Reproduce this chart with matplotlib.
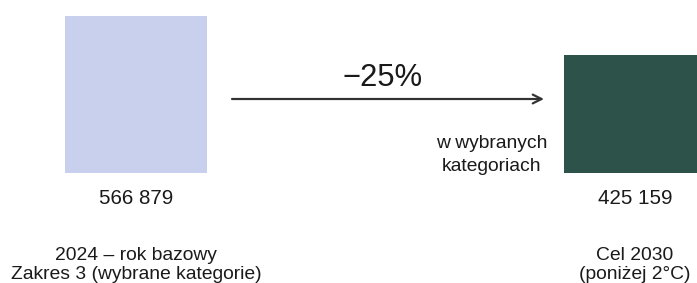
import matplotlib.pyplot as plt

# データ
values = [566879, 425159]
value_labels = ["566 879", "425 159"]
category_labels = ["2024 – rok bazowy\nZakres 3 (wybrane kategorie)",
                   "Cel 2030\n(poniżej 2°C)"]
bar_colors = ["#C8D0EE", "#2D5249"]
change_label = "\u221225%"
change_note = "w wybranych\nkategoriach"

plt.rcParams['font.family'] = ['Liberation Sans', 'DejaVu Sans']
TEXT_COLOR = "#1a1a1a"

W, H = 697, 283
fig = plt.figure(figsize=(W / 72, H / 72), dpi=72)
# 軸はバーの底辺(上から173px)まで
ax = fig.add_axes([0, 1 - 173 / H, 1, 173 / H])
ax.axis("off")

positions = range(len(values))
ax.bar(positions, values, width=0.2846, color=bar_colors)
ax.set_xlim(-0.2725, 1.1242)
ax.set_ylim(0, values[0] * 173 / 157)


def put_lines(text, x, first_offset, step, size):
    """複数行テキストを1行ずつベースライン揃えで配置"""
    for k, line in enumerate(text.split("\n")):
        ax.annotate(line, xy=(x, 0), xytext=(0, first_offset - k * step),
                    textcoords="offset points", ha="center", va="baseline",
                    fontsize=size, color=TEXT_COLOR, annotation_clip=False)


for i, (vl, cl) in enumerate(zip(value_labels, category_labels)):
    put_lines(vl, i, -31.3, 0, 20.5)
    put_lines(cl, i, -87.2, 18.5, 19.2)

# 矢印
arrow_y = 74 / 173
ax.annotate("", xy=(0.8176, arrow_y), xytext=(0.1924, arrow_y),
            xycoords=("data", "axes fraction"),
            arrowprops=dict(arrowstyle="->", color="#333333", lw=2.2,
                            mutation_scale=22, shrinkA=0, shrinkB=0))
ax.annotate(change_label, xy=(0.4940, arrow_y), xycoords=("data", "axes fraction"),
            xytext=(0, 13), textcoords="offset points",
            ha="center", va="baseline", fontsize=31, color=TEXT_COLOR)
put_lines(change_note, 0.7134, 24.7, 22.4, 19.3)

fig.savefig("out.png", dpi=72)
